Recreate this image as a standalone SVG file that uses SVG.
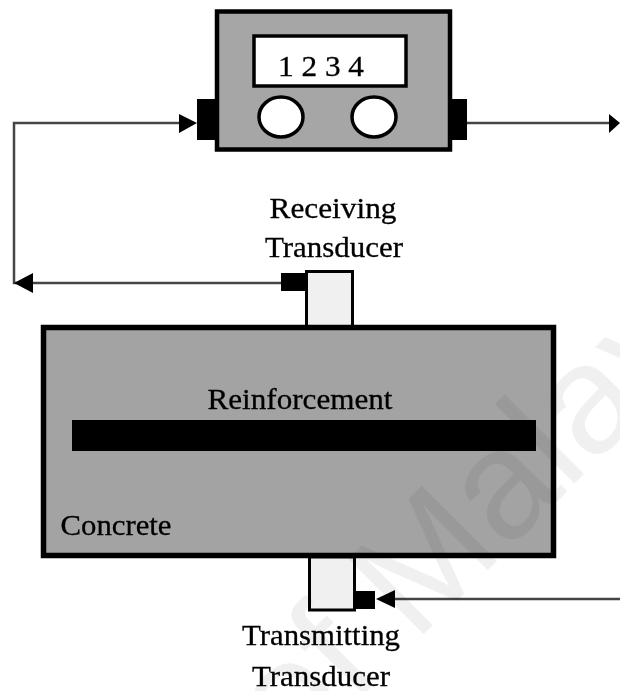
<svg xmlns="http://www.w3.org/2000/svg" width="620" height="691" viewBox="0 0 620 691">
<style>
text{font-family:"Liberation Serif","Times New Roman",serif;font-size:30px;fill:#000;stroke:#000;stroke-width:.3;text-anchor:middle}
.box{stroke:#000;fill:#a6a6a6}
.w{fill:#fff;stroke:#000}
.t{fill:#f0f0f0;stroke:#000;stroke-width:3}
.k{fill:#000}
.c{fill:none;stroke:#444;stroke-width:2.500}
.wm{font-family:"Liberation Sans",sans-serif;font-size:155px;fill:#000;fill-opacity:.06;stroke:none;text-anchor:start}
</style>
<defs><filter id="soft" filterUnits="userSpaceOnUse" x="0" y="0" width="620" height="691"><feGaussianBlur stdDeviation="0.5"/></filter></defs>
<rect width="620" height="691" fill="#fff"/>
<g filter="url(#soft)">
<g id="connectors">
<path class="c" d="M180 123H14V283H281"/>
<path class="c" d="M467 123H610"/>
<path class="c" d="M394 599H620"/>
<path class="k" d="M197 123L179 114V133Z"/>
<path class="k" d="M620 123L609 114V133Z"/>
<path class="k" d="M14 283L33 273V293Z"/>
<path class="k" d="M376 599L395 590V608Z"/>
</g>
<g id="meter">
<rect class="k" x="197" y="99" width="22" height="41"/>
<rect class="k" x="448" y="99" width="19" height="41"/>
<rect class="box" x="217" y="11.500" width="233" height="138" stroke-width="4.500"/>
<rect class="w" x="254" y="36" width="152" height="50" stroke-width="3.500"/>
<ellipse class="w" cx="281" cy="117" rx="22" ry="20" stroke-width="3.500"/>
<ellipse class="w" cx="374" cy="117" rx="22" ry="20" stroke-width="3.500"/>
<text x="321" y="76" textLength="86" lengthAdjust="spacingAndGlyphs">1 2 3 4</text>
</g>
<g id="receiving-transducer">
<rect class="k" x="281" y="273" width="26" height="18"/>
<rect class="t" x="306.500" y="271.500" width="46" height="56"/>
<text x="333" y="218" textLength="127" lengthAdjust="spacingAndGlyphs">Receiving</text>
<text x="334" y="257" textLength="138" lengthAdjust="spacingAndGlyphs">Transducer</text>
</g>
<g id="concrete">
<rect class="box" x="43.500" y="327.500" width="510" height="228" stroke-width="5.500" style="fill:#a3a3a3"/>
<rect class="k" x="72" y="420" width="464" height="31"/>
<text x="300" y="409" textLength="185" lengthAdjust="spacingAndGlyphs">Reinforcement</text>
<text x="116" y="535" textLength="111" lengthAdjust="spacingAndGlyphs">Concrete</text>
</g>
<g id="transmitting-transducer">
<rect class="t" x="309.500" y="557" width="45" height="53"/>
<rect class="k" x="355" y="591" width="20" height="18"/>
<text x="321" y="645" textLength="158" lengthAdjust="spacingAndGlyphs">Transmitting</text>
<text x="321" y="686" textLength="138" lengthAdjust="spacingAndGlyphs">Transducer</text>
</g>
</g>
<text class="wm" transform="translate(293 765) rotate(-45)">of Malaya</text>
</svg>
